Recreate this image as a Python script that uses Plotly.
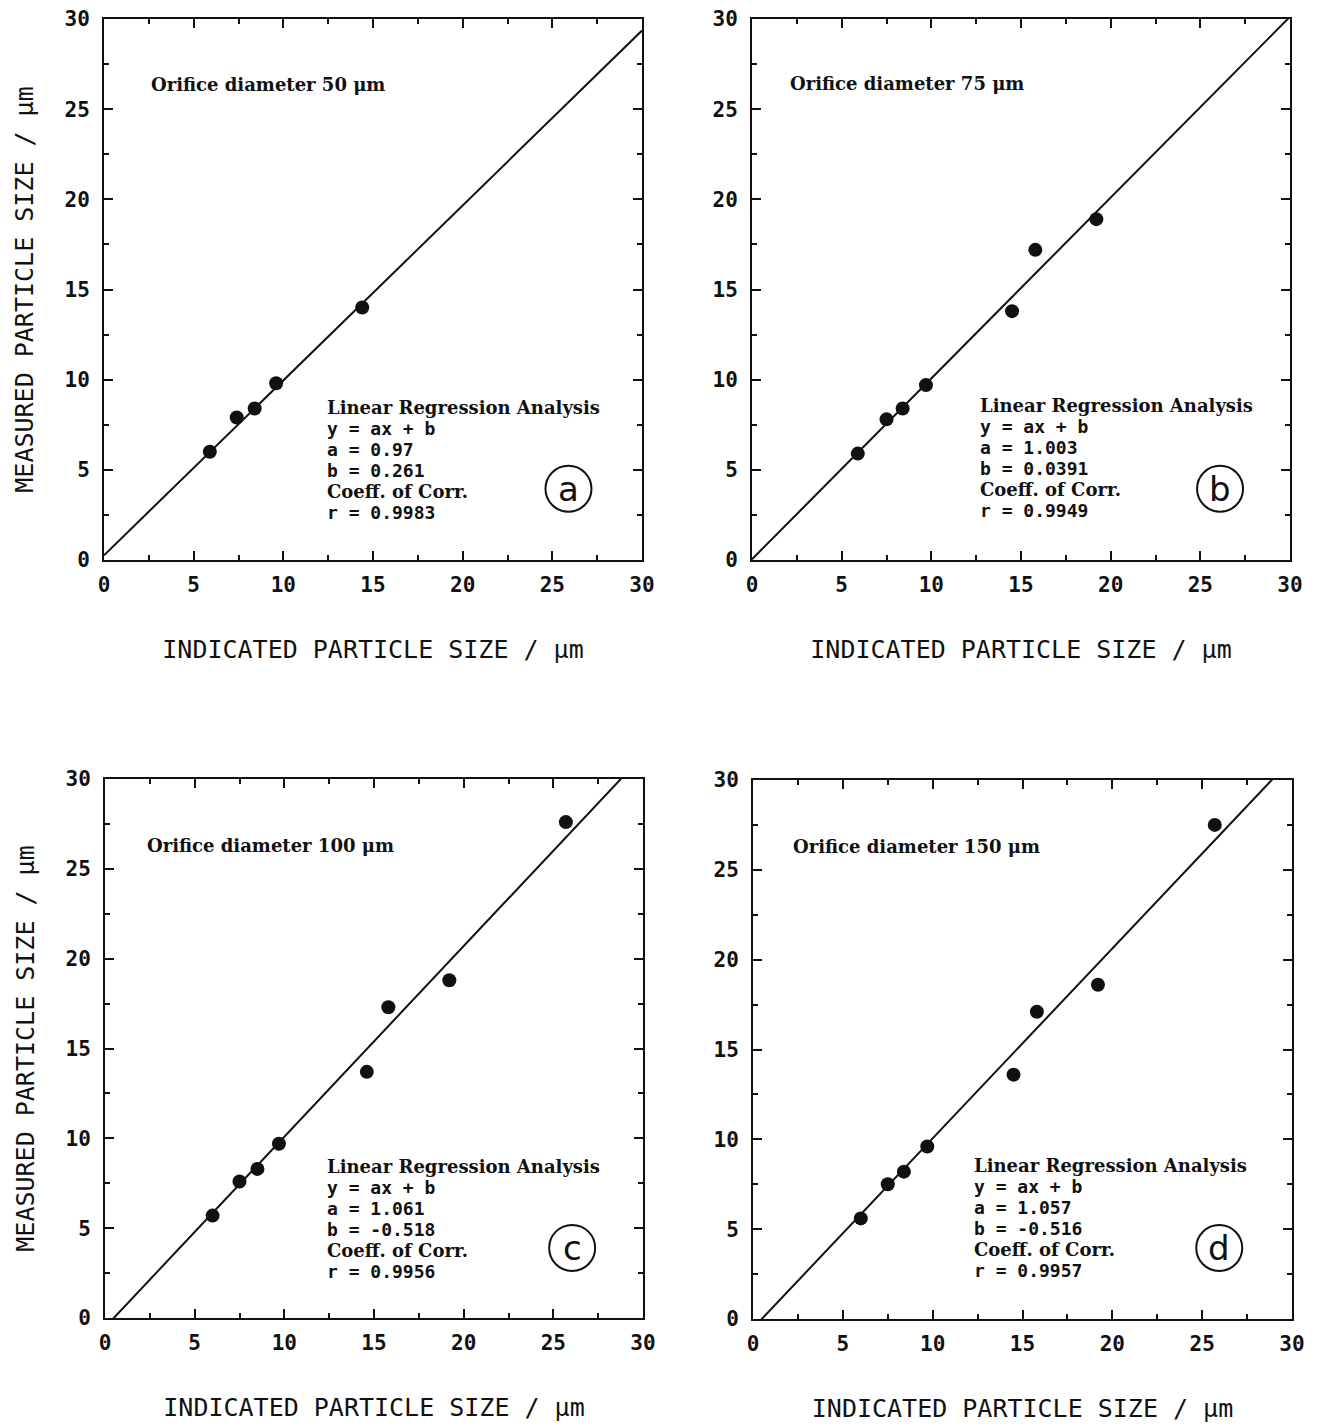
import plotly.graph_objects as go

# ---- data ----
panel_letters = ["a", "b", "c", "d"]
orifice_labels = ["Orifice diameter 50 μm", "Orifice diameter 75 μm",
                  "Orifice diameter 100 μm", "Orifice diameter 150 μm"]

x_a = [5.9, 7.4, 8.4, 9.6, 14.4]
y_a = [6.0, 7.9, 8.4, 9.8, 14.0]
x_b = [5.9, 7.5, 8.4, 9.7, 14.5, 15.8, 19.2]
y_b = [5.9, 7.8, 8.4, 9.7, 13.8, 17.2, 18.9]
x_c = [6.0, 7.5, 8.5, 9.7, 14.6, 15.8, 19.2, 25.7]
y_c = [5.7, 7.6, 8.3, 9.7, 13.7, 17.3, 18.8, 27.6]
x_d = [6.0, 7.5, 8.4, 9.7, 14.5, 15.8, 19.2, 25.7]
y_d = [5.6, 7.5, 8.2, 9.6, 13.6, 17.1, 18.6, 27.5]

slope_a = [0.97, 1.003, 1.061, 1.057]
intercept_b = [0.261, 0.0391, -0.518, -0.516]
a_text = ["0.97", "1.003", "1.061", "1.057"]
b_text = ["0.261", "0.0391", "-0.518", "-0.516"]
r_text = ["0.9983", "0.9949", "0.9956", "0.9957"]

xs = [x_a, x_b, x_c, x_d]
ys = [y_a, y_b, y_c, y_d]

tick_vals = [0, 5, 10, 15, 20, 25, 30]
tick_text = ["0", "5", "10", "15", "20", "25", "30"]
x_title = "INDICATED PARTICLE SIZE / μm"
y_title = "MEASURED PARTICLE SIZE / μm"

# ---- layout geometry (pixel targets, page offset 8px) ----
W, H = 1320, 1426
OFF = 8


def fx(px):
    return (px - OFF) / W


def fy(py):
    return 1 - (py - OFF) / H


x_domains = [[fx(104), fx(642)], [fx(752), fx(1290)], [fx(105), fx(643)], [fx(753), fx(1292)]]
y_domains = [[fy(560), fy(19)], [fy(560), fy(19)], [fy(1318), fy(779)], [fy(1319), fy(780)]]
orifice_pos = [(2.5, 26.35), (2.0, 26.45), (2.25, 26.3), (2.1, 26.3)]
block_pos = [(12.3, 8.45), (12.6, 8.55), (12.25, 8.45), (12.2, 8.55)]
circle_pos = [(25.9, 3.95), (26.1, 3.95), (26.05, 3.9), (25.95, 3.95)]

fig = go.Figure()
INK = "#111111"
MONO = "DejaVu Sans Mono"
SERIF = "DejaVu Serif"

for i in range(4):
    xa = "x" if i == 0 else f"x{i+1}"
    ya = "y" if i == 0 else f"y{i+1}"
    a, b = slope_a[i], intercept_b[i]
    lx = [0, 30]
    ly = [a * v + b for v in lx]
    fig.add_trace(go.Scatter(x=lx, y=ly, mode="lines", xaxis=xa, yaxis=ya,
                             line=dict(color=INK, width=2), showlegend=False,
                             hoverinfo="skip"))
    fig.add_trace(go.Scatter(x=xs[i], y=ys[i], mode="markers", xaxis=xa, yaxis=ya,
                             marker=dict(color=INK, size=14), showlegend=False))

    axis_common = dict(range=[0, 30], tickvals=tick_vals, ticktext=tick_text,
                       showgrid=False, zeroline=False, showline=True, linecolor=INK,
                       linewidth=2, mirror="ticks", ticks="inside", ticklen=9,
                       tickwidth=2, tickcolor=INK, automargin=False,
                       ticklabeloverflow="allow",
                       tickfont=dict(family=MONO, size=21, color=INK, weight="bold"),
                       minor=dict(dtick=2.5, tick0=0, ticks="inside", ticklen=5,
                                  tickwidth=2, tickcolor=INK, showgrid=False))
    xkey = "xaxis" if i == 0 else f"xaxis{i+1}"
    ykey = "yaxis" if i == 0 else f"yaxis{i+1}"
    fig.layout[xkey] = dict(axis_common, domain=x_domains[i], anchor=ya,
                            ticklabelstandoff=5,
                            title=dict(text=x_title, standoff=44,
                                       font=dict(family=MONO, size=25, color=INK)))
    ydict = dict(axis_common, domain=y_domains[i], anchor=xa, ticklabelstandoff=8)
    if i in (0, 2):
        ydict["title"] = dict(text=y_title, standoff=24,
                              font=dict(family=MONO, size=25, color=INK))
    fig.layout[ykey] = ydict

    xref, yref = xa, ya
    ox, oy = orifice_pos[i]
    fig.add_annotation(x=ox, y=oy, xref=xref, yref=yref, text=orifice_labels[i],
                       showarrow=False, xanchor="left", yanchor="middle",
                       font=dict(family=SERIF, size=18, color=INK, weight="bold"))
    bx, by = block_pos[i]
    lines = [("Linear Regression Analysis", SERIF),
             ("y = ax + b", MONO),
             (f"a = {a_text[i]}", MONO),
             (f"b = {b_text[i]}", MONO),
             ("Coeff. of Corr.", SERIF),
             (f"r = {r_text[i]}", MONO)]
    for k, (txt, fam) in enumerate(lines):
        fig.add_annotation(x=bx, y=by, xref=xref, yref=yref, text=txt,
                           showarrow=False, xanchor="left", yanchor="middle",
                           yshift=-21 * k,
                           font=dict(family=fam, size=18, color=INK, weight="bold"))
    cx, cy = circle_pos[i]
    fig.add_shape(type="circle", xref=xref, yref=yref, xsizemode="pixel",
                  ysizemode="pixel", xanchor=cx, yanchor=cy, x0=-23, x1=23,
                  y0=-23, y1=23, line=dict(color=INK, width=2))
    fig.add_annotation(x=cx, y=cy, xref=xref, yref=yref, text=panel_letters[i],
                       showarrow=False, xanchor="center", yanchor="middle",
                       font=dict(family="DejaVu Sans", size=34, color=INK))

fig.update_layout(width=W, height=H, margin=dict(l=0, r=0, t=0, b=0, autoexpand=False),
                  paper_bgcolor="white", plot_bgcolor="white")
fig.write_html("out.html")
